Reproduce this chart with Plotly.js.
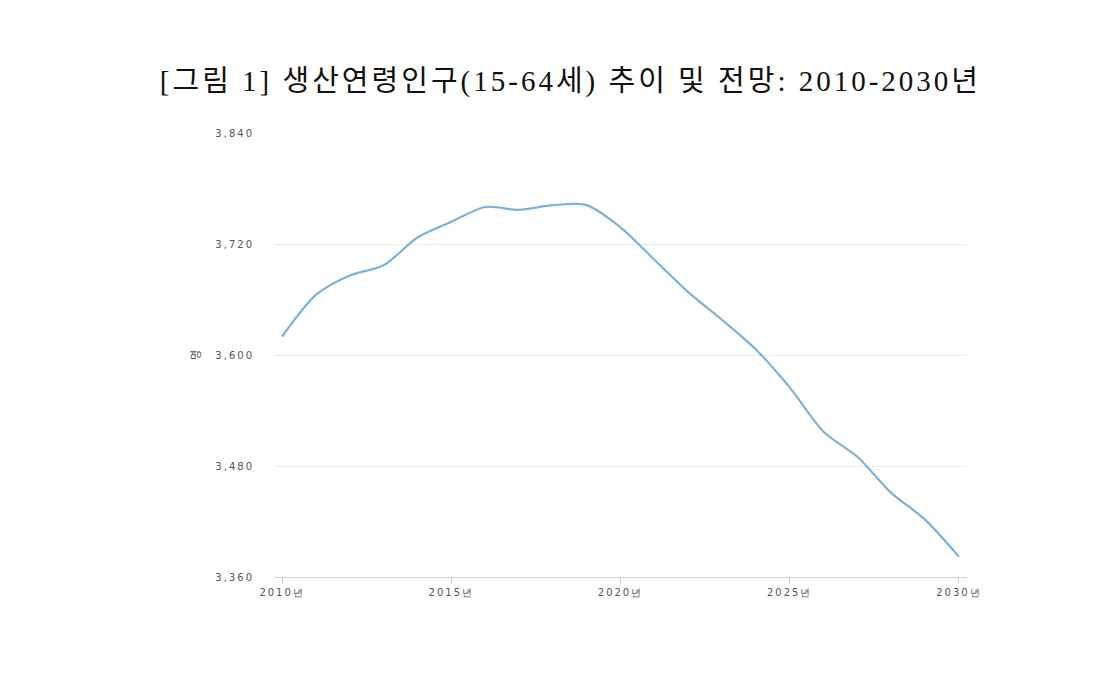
<!DOCTYPE html>
<html>
<head>
<meta charset="utf-8">
<script src="https://cdn.plot.ly/plotly-3.0.1.min.js"></script>
<style>
html,body{margin:0;padding:0;background:#fff;}
#chart{width:1097px;height:700px;}
#chart .xtick text, #chart .ytick text{letter-spacing:2px;}
#chart .gtitle{letter-spacing:3px;}
</style>
</head>
<body>
<div id="chart"></div>
<script>
const years = [2010,2011,2012,2013,2014,2015,2016,2017,2018,2019,2020,2021,2022,2023,2024,2025,2026,2027,2028,2029,2030];
const population = [3620,3665,3686,3697,3727,3744,3760,3757,3762,3762,3738,3703,3668,3638,3606,3565,3517,3490,3451,3422,3382];
const xTickVals = [2010,2015,2020,2025,2030];
const xTickText = ['2010년','2015년','2020년','2025년','2030년'];
const yTickVals = [3360,3480,3600,3720,3840];
const yTickText = ['3,360','3,480','3,600','3,720','3,840'];

const trace = {
  x: years, y: population, type: 'scatter', mode: 'lines',
  line: {color: '#7cb1dc', width: 2.2, shape: 'spline', smoothing: 0.8},
  hoverinfo: 'x+y'
};
const layout = {
  width: 1097, height: 700,
  paper_bgcolor: '#fff', plot_bgcolor: '#fff',
  margin: {l: 275, r: 130, t: 133, b: 123},
  showlegend: false,
  title: {text: '[그림 1] 생산연령인구(15-64세) 추이 및 전망: 2010-2030년',
    font: {family: 'Liberation Serif, Noto Sans CJK KR', size: 29, color: '#111'},
    x: 0.52, xanchor: 'center', y: 0.885, yanchor: 'middle'},
  xaxis: {range: [2009.79, 2030.24], tickvals: xTickVals, ticktext: xTickText,
    showgrid: false, zeroline: false, showline: true, linecolor: '#d0d0d0', linewidth: 1,
    ticks: 'outside', ticklen: 6, tickcolor: '#d0d0d0',
    tickfont: {family: 'DejaVu Sans', size: 10, color: '#555'}},
  yaxis: {range: [3360, 3840], tickvals: yTickVals, ticktext: yTickText,
    showgrid: true, gridcolor: '#ebebeb', gridwidth: 1, zeroline: false, showline: false,
    ticks: '', ticklabelstandoff: 20,
    tickfont: {family: 'DejaVu Sans', size: 10, color: '#555'},
    title: {text: '명', font: {family: 'Noto Sans CJK KR', size: 11, color: '#555'}, standoff: 22}}
};
Plotly.newPlot('chart', [trace], layout, {displayModeBar: false, responsive: false});
</script>
</body>
</html>
